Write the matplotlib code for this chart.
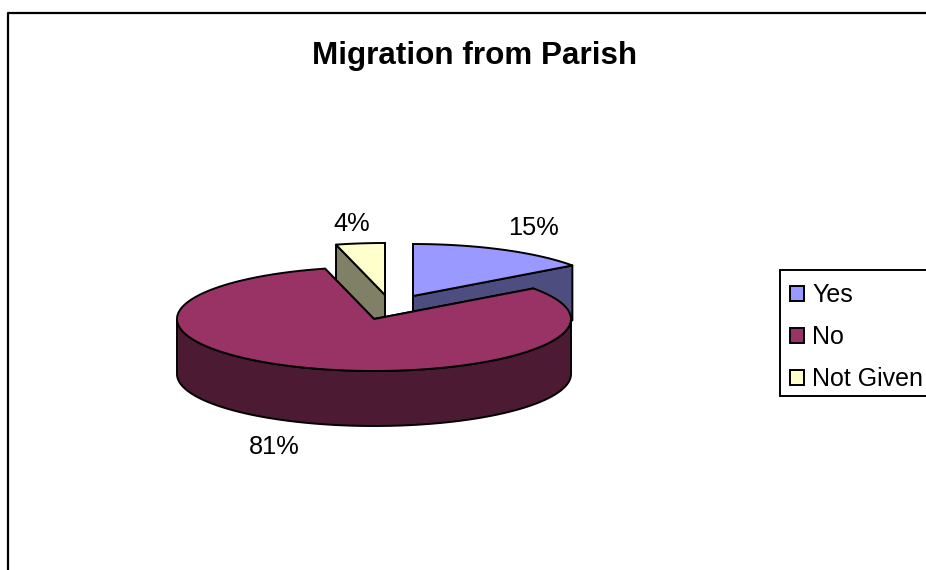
import numpy as np
import matplotlib
matplotlib.use("Agg")
import matplotlib.pyplot as plt
from matplotlib.patches import Patch, Rectangle

plt.rcParams['font.family'] = ['Liberation Sans', 'DejaVu Sans']

title = "Migration from Parish"
categories = ["Yes", "No", "Not Given"]
values = [15, 81, 4]
top_colors = ["#9999FF", "#993366", "#FFFFCC"]
side_colors = ["#4D4D80", "#4D1A33", "#808066"]

# pie geometry, in pixels of the 926x570 picture
rx = 197
ry = 52
depth = 55
start_angle = 90
centers = {"Yes": (413, 296), "No": (374, 319), "Not Given": (385, 295)}
label_pos = {"Yes": (533, 228), "No": (274, 447), "Not Given": (352, 224)}

fig = plt.figure(figsize=(9.26, 5.70), dpi=100)
ax = fig.add_axes([0, 0, 1, 1])
ax.set_xlim(0, 926)
ax.set_ylim(570, 0)
ax.axis("off")

# chart border, right and bottom edges fall outside the picture
ax.plot([8, 8, 940], [590, 12.5, 12.5], color="black", lw=1.6, clip_on=False)

# slice angles, clockwise from the top
total = sum(values)
angles = {}
a = start_angle
for name, v in zip(categories, values):
    sweep = 360 * v / total
    angles[name] = (a - sweep, a)
    a -= sweep


def rim(name, t1, t2):
    cx, cy = centers[name]
    t = np.radians(np.linspace(t1, t2, 200))
    return cx + rx * np.cos(t), cy - ry * np.sin(t)


def draw_slice(name, top, side):
    cx, cy = centers[name]
    t1, t2 = angles[name]
    # flat cut faces
    for t in (t1, t2):
        ex = cx + rx * np.cos(np.radians(t))
        ey = cy - ry * np.sin(np.radians(t))
        ax.fill([cx, ex, ex, cx], [cy, ey, ey + depth, cy + depth],
                facecolor=side, edgecolor="black", lw=1.4, joinstyle="round")
    # outer wall, only the front half of the rim can be seen
    for k in (-1, 0):
        w1 = max(t1, 180 + 360 * k)
        w2 = min(t2, 360 + 360 * k)
        if w2 > w1:
            x, y = rim(name, w1, w2)
            ax.fill(np.r_[x, x[::-1]], np.r_[y, y[::-1] + depth],
                    facecolor=side, edgecolor="black", lw=1.4)
    # top face
    x, y = rim(name, t1, t2)
    ax.fill(np.r_[cx, x], np.r_[cy, y], facecolor=top, edgecolor="black",
            lw=1.4, joinstyle="round")


# back slices first, the big one sits in front of them
for name in ["Yes", "Not Given", "No"]:
    i = categories.index(name)
    draw_slice(name, top_colors[i], side_colors[i])

for name, v in zip(categories, values):
    x, y = label_pos[name]
    ax.text(x, y, f"{v}%", fontsize=18.3, ha="center", va="center", color="black")

ax.text(475, 56, title, fontsize=22.6, fontweight="bold", ha="center", va="center")

# legend box is shorter than the entries want, so it is drawn on its own
ax.add_patch(Rectangle((780, 270), 170, 126, facecolor="white", edgecolor="black", lw=1.4))
handles = [Patch(facecolor=c, edgecolor="black", lw=1.4) for c in top_colors]
leg = ax.legend(handles, categories, loc="upper left",
                bbox_to_anchor=(780 / 926, 1 - 273 / 570),
                bbox_transform=fig.transFigure, borderaxespad=0,
                fontsize=18, frameon=False,
                handlelength=0.56, handleheight=0.56, handletextpad=0.33,
                labelspacing=0.72, borderpad=0.4)

fig.savefig("out.png", dpi=100)
